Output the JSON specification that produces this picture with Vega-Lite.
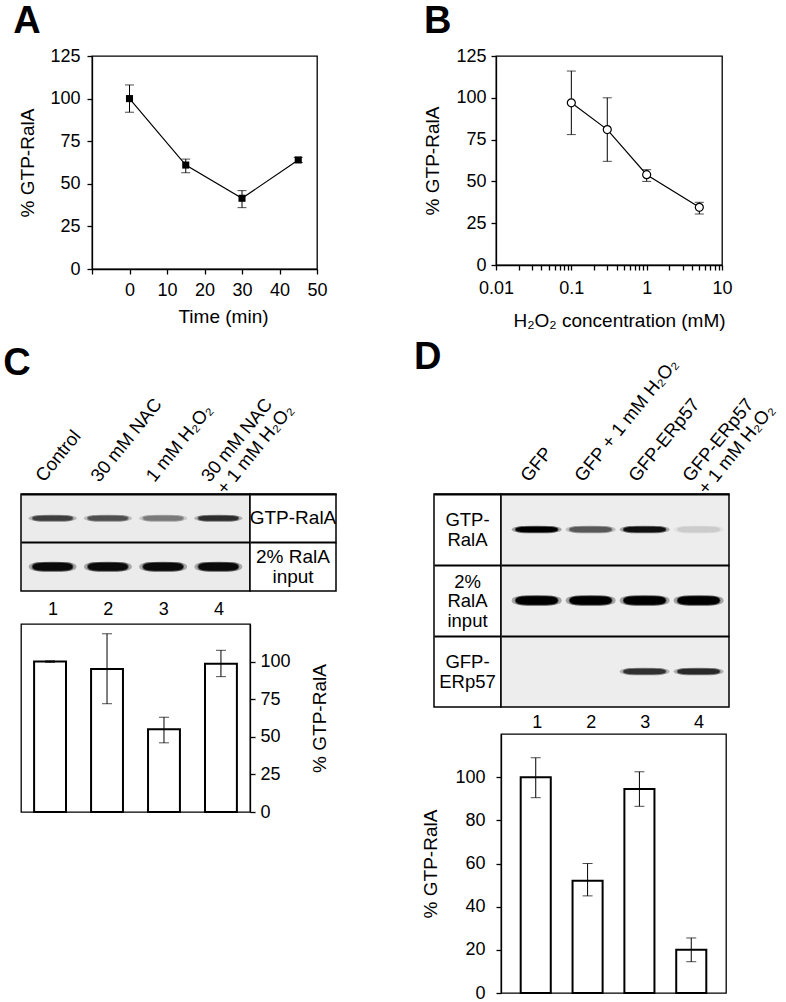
{
  "$schema": "https://vega.github.io/schema/vega-lite/v6.json",
  "padding": {"left": 0, "top": 2, "right": 0, "bottom": 0},
  "config": {
    "font": "Liberation Sans",
    "view": {"stroke": "black", "strokeWidth": 1.3},
    "title": {"fontSize": 38, "fontWeight": "bold", "anchor": "start", "color": "black", "font": "Liberation Sans", "frame": "group"},
    "axis": {"labelFontSize": 18, "titleFontSize": 19, "titleFontWeight": "normal", "labelColor": "black", "titleColor": "black", "domainColor": "black", "tickColor": "black", "domainWidth": 1.3, "tickWidth": 1.3, "tickSize": 5, "grid": false, "labelFont": "Liberation Sans", "titleFont": "Liberation Sans", "labelFlush": false, "labelOverlap": false},
    "text": {"font": "Liberation Sans"}
  },
  "spacing": 7,
  "vconcat": [
    {
      "spacing": 11,
      "hconcat": [
        {"width": 1, "height": 1, "view": {"stroke": null}, "data": {"values": []}, "mark": {"type": "point", "opacity": 0}},
        {
          "spacing": 95,
          "hconcat": [
            {
              "title": {"text": "A", "dx": -78.7, "offset": 6},
              "width": 225, "height": 213,
              "data": {"values": [
                {"time": 0, "pct": 100, "lo": 92, "hi": 108},
                {"time": 15, "pct": 61, "lo": 56.5, "hi": 64.5},
                {"time": 30, "pct": 41.5, "lo": 36, "hi": 46},
                {"time": 45, "pct": 64, "lo": 62.5, "hi": 65.5}
              ]},
              "encoding": {
                "x": {"field": "time", "type": "quantitative", "scale": {"domain": [-10, 50], "nice": false, "zero": false},
                  "axis": {"values": [-10, 0, 10, 20, 30, 40, 50], "labelExpr": "datum.value < 0 ? '' : datum.label", "title": "Time (min)", "titleX": 131, "labelPadding": 7, "titlePadding": 8}}
              },
              "layer": [
                {"mark": {"type": "errorbar", "ticks": {"size": 9, "color": "black", "strokeWidth": 1.2}, "color": "black", "strokeWidth": 1.2},
                 "encoding": {"y": {"field": "lo", "type": "quantitative", "scale": {"domain": [0, 125], "nice": false}, "axis": {"values": [0, 25, 50, 75, 100, 125], "title": "% GTP-RalA", "labelPadding": 7, "titlePadding": 12}}, "y2": {"field": "hi"}}},
                {"mark": {"type": "line", "color": "black", "strokeWidth": 1.2},
                 "encoding": {"y": {"field": "pct", "type": "quantitative", "scale": {"domain": [0, 125], "nice": false}, "axis": {"values": [0, 25, 50, 75, 100, 125], "title": "% GTP-RalA", "labelPadding": 7, "titlePadding": 12}}}},
                {"mark": {"type": "point", "shape": "square", "filled": true, "color": "black", "size": 50, "opacity": 1},
                 "encoding": {"y": {"field": "pct", "type": "quantitative", "scale": {"domain": [0, 125], "nice": false}, "axis": {"values": [0, 25, 50, 75, 100, 125], "title": "% GTP-RalA", "labelPadding": 7, "titlePadding": 12}}}}
              ]
            },
            {
              "title": {"text": "B", "dx": -72, "offset": 6},
              "width": 226, "height": 209,
              "data": {"values": [
                {"conc": 0.1, "pct": 97, "lo": 78, "hi": 116},
                {"conc": 0.3, "pct": 81, "lo": 62, "hi": 100},
                {"conc": 1, "pct": 54, "lo": 50, "hi": 57},
                {"conc": 5, "pct": 34.5, "lo": 30.5, "hi": 37.5}
              ]},
              "encoding": {
                "x": {"field": "conc", "type": "quantitative", "scale": {"type": "log", "domain": [0.01, 10], "nice": false},
                  "axis": {"values": [0.01, 0.02, 0.03, 0.04, 0.05, 0.06, 0.07, 0.08, 0.09, 0.1, 0.2, 0.3, 0.4, 0.5, 0.6, 0.7, 0.8, 0.9, 1, 2, 3, 4, 5, 6, 7, 8, 9, 10],
                    "format": "~g", "labelExpr": "(datum.value == 0.01 || datum.value == 0.1 || datum.value == 1 || datum.value == 10) ? datum.label : ''",
                    "title": "H\u2082O\u2082 concentration (mM)", "titleX": 123, "labelPadding": 9, "titlePadding": 14}}
              },
              "layer": [
                {"mark": {"type": "errorbar", "ticks": {"size": 9, "color": "black", "strokeWidth": 1.2}, "color": "black", "strokeWidth": 1.2},
                 "encoding": {"y": {"field": "lo", "type": "quantitative", "scale": {"domain": [0, 125], "nice": false}, "axis": {"values": [0, 25, 50, 75, 100, 125], "title": "% GTP-RalA", "labelPadding": 5, "titlePadding": 13}}, "y2": {"field": "hi"}}},
                {"mark": {"type": "line", "color": "black", "strokeWidth": 1.2},
                 "encoding": {"y": {"field": "pct", "type": "quantitative", "scale": {"domain": [0, 125], "nice": false}, "axis": {"values": [0, 25, 50, 75, 100, 125], "title": "% GTP-RalA", "labelPadding": 5, "titlePadding": 13}}}},
                {"mark": {"type": "point", "shape": "circle", "filled": true, "fill": "white", "stroke": "black", "strokeWidth": 1.2, "size": 64, "opacity": 1},
                 "encoding": {"y": {"field": "pct", "type": "quantitative", "scale": {"domain": [0, 125], "nice": false}, "axis": {"values": [0, 25, 50, 75, 100, 125], "title": "% GTP-RalA", "labelPadding": 5, "titlePadding": 13}}}}
              ]
            }
          ]
        }
      ]
    },
    {
      "spacing": 2,
      "hconcat": [
        {"width": 1, "height": 1, "view": {"stroke": null}, "data": {"values": []}, "mark": {"type": "point", "opacity": 0}},
        {
          "spacing": 76,
          "hconcat": [
            {
              "title": {"text": "C", "dx": -17.7, "offset": 6, "dy": 2},
              "spacing": 4,
              "vconcat": [
                {
                  "spacing": 0,
                  "bounds": "flush",
                  "hconcat": [
                    {
                      "width": 229, "height": 97,
                      "view": {"fill": "#ebebeb", "stroke": "black", "strokeWidth": 1.5},
                      "data": {"values": [
                        {"trt": "Control", "num": "1", "row": "GTP-RalA", "intensity": 0.72},
                        {"trt": "30 mM NAC", "num": "2", "row": "GTP-RalA", "intensity": 0.64},
                        {"trt": "1 mM H\u2082O\u2082", "num": "3", "row": "GTP-RalA", "intensity": 0.45},
                        {"trt": "30 mM NAC|+ 1 mM H\u2082O\u2082", "num": "4", "row": "GTP-RalA", "intensity": 0.8},
                        {"trt": "Control", "num": "1", "row": "2% RalA input", "intensity": 0.97},
                        {"trt": "30 mM NAC", "num": "2", "row": "2% RalA input", "intensity": 0.97},
                        {"trt": "1 mM H\u2082O\u2082", "num": "3", "row": "2% RalA input", "intensity": 0.97},
                        {"trt": "30 mM NAC|+ 1 mM H\u2082O\u2082", "num": "4", "row": "2% RalA input", "intensity": 0.97}
                      ]},
                      "resolve": {"scale": {"x": "independent"}, "axis": {"x": "independent"}},
                      "encoding": {
                        "y": {"field": "row", "type": "nominal", "scale": {"type": "band", "domain": ["GTP-RalA", "2% RalA input"], "paddingInner": 0, "paddingOuter": 0},
                          "axis": {"labels": false, "ticks": false, "domain": false, "title": null, "grid": true, "gridColor": "black", "gridWidth": 2, "bandPosition": 0}},
                        "fill": {"field": "intensity", "type": "quantitative", "scale": {"domain": [0, 1], "range": ["#ebebeb", "#000000"]}, "legend": null},
                        "stroke": {"field": "intensity", "type": "quantitative", "scale": {"domain": [0, 1], "range": ["#ebebeb", "#000000"]}, "legend": null},
                        "shape": {"field": "row", "type": "nominal", "scale": {"domain": ["GTP-RalA", "2% RalA input"], "range": ["M-1,0C-1,-0.13,-0.6,-0.13,0,-0.13C0.6,-0.13,1,-0.13,1,0C1,0.13,0.6,0.13,0,0.13C-0.6,0.13,-1,0.13,-1,0Z", "M-1,0C-1,-0.2,-0.6,-0.2,0,-0.2C0.6,-0.2,1,-0.2,1,0C1,0.2,0.6,0.2,0,0.2C-0.6,0.2,-1,0.2,-1,0Z"]}, "legend": null}
                      },
                      "layer": [
                        {
                          "mark": {"type": "point", "filled": true, "size": 2300, "opacity": 0.3, "strokeWidth": 0},
                          "encoding": {
                            "x": {"field": "trt", "type": "nominal", "scale": {"type": "point", "domain": ["Control", "30 mM NAC", "1 mM H\u2082O\u2082", "30 mM NAC|+ 1 mM H\u2082O\u2082"], "padding": 0.572, "align": 0.5}, "axis": null}
                          }
                        },
                        {
                          "mark": {"type": "point", "filled": true, "size": 1600, "opacity": 1, "strokeWidth": 2, "strokeOpacity": 0.5},
                          "encoding": {
                            "x": {"field": "trt", "type": "nominal", "scale": {"type": "point", "domain": ["Control", "30 mM NAC", "1 mM H\u2082O\u2082", "30 mM NAC|+ 1 mM H\u2082O\u2082"], "padding": 0.572, "align": 0.5},
                              "axis": {"orient": "top", "ticks": false, "tickSize": 0, "domain": false, "labelAngle": -51, "labelAlign": "left", "labelBaseline": "bottom", "labelPadding": 9, "labelOffset": -6, "labelFontSize": 18.5, "labelExpr": "split(datum.label, '|')", "labelLineHeight": 20, "title": null}}
                          }
                        },
                        {
                          "mark": {"type": "point", "opacity": 0},
                          "encoding": {
                            "x": {"field": "num", "type": "ordinal", "scale": {"type": "point", "domain": ["1", "2", "3", "4"], "padding": 0.572, "align": 0.5},
                              "axis": {"orient": "bottom", "ticks": false, "tickSize": 0, "domain": false, "labelAngle": 0, "labelPadding": 9, "title": null}}
                          }
                        }
                      ]
                    },
                    {
                      "width": 86, "height": 97,
                      "view": {"fill": "white", "stroke": "black", "strokeWidth": 1.5},
                      "data": {"values": [
                        {"row": "GTP-RalA", "label": "GTP-RalA"},
                        {"row": "2% RalA input", "label": "2% RalA\ninput"}
                      ]},
                      "encoding": {
                        "y": {"field": "row", "type": "nominal", "scale": {"type": "band", "domain": ["GTP-RalA", "2% RalA input"], "paddingInner": 0, "paddingOuter": 0},
                          "axis": {"labels": false, "ticks": false, "domain": false, "title": null, "grid": true, "gridColor": "black", "gridWidth": 2, "bandPosition": 0}},
                        "text": {"field": "label"}
                      },
                      "layer": [
                        {"transform": [{"filter": "datum.row == 'GTP-RalA'"}],
                         "mark": {"type": "text", "fontSize": 19, "lineBreak": "\n", "lineHeight": 20, "color": "black", "baseline": "middle", "align": "center"}},
                        {"transform": [{"filter": "datum.row == '2% RalA input'"}],
                         "mark": {"type": "text", "fontSize": 19, "lineBreak": "\n", "lineHeight": 20, "color": "black", "baseline": "middle", "align": "center", "dy": -10}}
                      ]
                    }
                  ]
                },
                {
                  "width": 229, "height": 188,
                  "data": {"values": [
                    {"lane": "1", "pct": 100, "lo": 99.5, "hi": 100.5},
                    {"lane": "2", "pct": 95, "lo": 72, "hi": 118.5},
                    {"lane": "3", "pct": 55, "lo": 46, "hi": 63},
                    {"lane": "4", "pct": 98.5, "lo": 90, "hi": 107.5}
                  ]},
                  "encoding": {
                    "x": {"field": "lane", "type": "ordinal", "scale": {"type": "band", "paddingInner": 0.44, "paddingOuter": 0.23}, "axis": null}
                  },
                  "layer": [
                    {"mark": {"type": "bar", "fill": "white", "stroke": "black", "strokeWidth": 2},
                     "encoding": {"y": {"field": "pct", "type": "quantitative", "scale": {"domain": [0, 125], "nice": false},
                       "axis": {"orient": "right", "values": [0, 25, 50, 75, 100], "title": "% GTP-RalA", "titleAngle": 270, "labelPadding": 5, "titlePadding": 39}}}},
                    {"mark": {"type": "errorbar", "ticks": {"size": 10, "color": "black", "strokeWidth": 1.2}, "color": "black", "strokeWidth": 1.2},
                     "encoding": {"y": {"field": "lo", "type": "quantitative", "scale": {"domain": [0, 125], "nice": false},
                       "axis": {"orient": "right", "values": [0, 25, 50, 75, 100], "title": "% GTP-RalA", "titleAngle": 270, "labelPadding": 5, "titlePadding": 39}}, "y2": {"field": "hi"}}}
                  ]
                }
              ]
            },
            {
              "title": {"text": "D", "dx": -20, "offset": 6, "dy": 29},
              "spacing": 0,
              "bounds": "flush",
              "hconcat": [
                {
                  "width": 67, "height": 213,
                  "view": {"fill": "white", "stroke": "black", "strokeWidth": 1.5},
                  "data": {"values": [
                    {"row": "GTP-RalA", "label": "GTP-\nRalA"},
                    {"row": "2% RalA input", "label": "2%\nRalA\ninput"},
                    {"row": "GFP-ERp57", "label": "GFP-\nERp57"}
                  ]},
                  "encoding": {
                    "y": {"field": "row", "type": "nominal", "scale": {"type": "band", "domain": ["GTP-RalA", "2% RalA input", "GFP-ERp57"], "paddingInner": 0, "paddingOuter": 0},
                      "axis": {"labels": false, "ticks": false, "domain": false, "title": null, "grid": true, "gridColor": "black", "gridWidth": 2, "bandPosition": 0}},
                    "text": {"field": "label"}
                  },
                  "layer": [
                    {"transform": [{"filter": "datum.row != '2% RalA input'"}],
                     "mark": {"type": "text", "fontSize": 18.5, "lineBreak": "\n", "lineHeight": 19.5, "color": "black", "baseline": "middle", "align": "center", "dy": -9.5}},
                    {"transform": [{"filter": "datum.row == '2% RalA input'"}],
                     "mark": {"type": "text", "fontSize": 18.5, "lineBreak": "\n", "lineHeight": 19.5, "color": "black", "baseline": "middle", "align": "center", "dy": -19}}
                  ]
                },
                {
                  "spacing": 1,
                  "vconcat": [
                    {
                      "width": 228, "height": 213,
                      "view": {"fill": "#ededed", "stroke": "black", "strokeWidth": 1.5},
                      "data": {"values": [
                        {"trt": "GFP", "num": "1", "row": "GTP-RalA", "intensity": 1.0},
                        {"trt": "GFP + 1 mM H\u2082O\u2082", "num": "2", "row": "GTP-RalA", "intensity": 0.6},
                        {"trt": "GFP-ERp57", "num": "3", "row": "GTP-RalA", "intensity": 0.95},
                        {"trt": "GFP-ERp57|+ 1 mM H\u2082O\u2082", "num": "4", "row": "GTP-RalA", "intensity": 0.12},
                        {"trt": "GFP", "num": "1", "row": "2% RalA input", "intensity": 1.0},
                        {"trt": "GFP + 1 mM H\u2082O\u2082", "num": "2", "row": "2% RalA input", "intensity": 1.0},
                        {"trt": "GFP-ERp57", "num": "3", "row": "2% RalA input", "intensity": 1.0},
                        {"trt": "GFP-ERp57|+ 1 mM H\u2082O\u2082", "num": "4", "row": "2% RalA input", "intensity": 1.0},
                        {"trt": "GFP-ERp57", "num": "3", "row": "GFP-ERp57", "intensity": 0.78},
                        {"trt": "GFP-ERp57|+ 1 mM H\u2082O\u2082", "num": "4", "row": "GFP-ERp57", "intensity": 0.82}
                      ]},
                      "resolve": {"scale": {"x": "independent"}, "axis": {"x": "independent"}},
                      "encoding": {
                        "y": {"field": "row", "type": "nominal", "scale": {"type": "band", "domain": ["GTP-RalA", "2% RalA input", "GFP-ERp57"], "paddingInner": 0, "paddingOuter": 0},
                          "axis": {"labels": false, "ticks": false, "domain": false, "title": null, "grid": true, "gridColor": "black", "gridWidth": 2, "bandPosition": 0}},
                        "fill": {"field": "intensity", "type": "quantitative", "scale": {"domain": [0, 1], "range": ["#ededed", "#000000"]}, "legend": null},
                        "stroke": {"field": "intensity", "type": "quantitative", "scale": {"domain": [0, 1], "range": ["#ededed", "#000000"]}, "legend": null},
                        "shape": {"field": "row", "type": "nominal", "scale": {"domain": ["GTP-RalA", "2% RalA input", "GFP-ERp57"], "range": ["M-1,0C-1,-0.19,-0.6,-0.19,0,-0.19C0.6,-0.19,1,-0.19,1,0C1,0.19,0.6,0.19,0,0.19C-0.6,0.19,-1,0.19,-1,0Z", "M-1,0C-1,-0.18,-0.6,-0.18,0,-0.18C0.6,-0.18,1,-0.18,1,0C1,0.18,0.6,0.18,0,0.18C-0.6,0.18,-1,0.18,-1,0Z", "M-1,0C-1,-0.16,-0.6,-0.16,0,-0.16C0.6,-0.16,1,-0.16,1,0C1,0.16,0.6,0.16,0,0.16C-0.6,0.16,-1,0.16,-1,0Z"]}, "legend": null}
                      },
                      "layer": [
                        {
                          "mark": {"type": "point", "filled": true, "size": 2500, "opacity": 0.3, "strokeWidth": 0},
                          "encoding": {
                            "x": {"field": "trt", "type": "nominal", "scale": {"type": "point", "domain": ["GFP", "GFP + 1 mM H\u2082O\u2082", "GFP-ERp57", "GFP-ERp57|+ 1 mM H\u2082O\u2082"], "padding": 0.612, "align": 0.54}, "axis": null}
                          }
                        },
                        {
                          "mark": {"type": "point", "filled": true, "size": 1764, "opacity": 1, "strokeWidth": 2, "strokeOpacity": 0.5},
                          "encoding": {
                            "x": {"field": "trt", "type": "nominal", "scale": {"type": "point", "domain": ["GFP", "GFP + 1 mM H\u2082O\u2082", "GFP-ERp57", "GFP-ERp57|+ 1 mM H\u2082O\u2082"], "padding": 0.612, "align": 0.54},
                              "axis": {"orient": "top", "ticks": false, "tickSize": 0, "domain": false, "labelAngle": -51, "labelAlign": "left", "labelBaseline": "bottom", "labelPadding": 9, "labelOffset": -5, "labelFontSize": 18.5, "labelExpr": "split(datum.label, '|')", "labelLineHeight": 20, "title": null}}
                          }
                        },
                        {
                          "mark": {"type": "point", "opacity": 0},
                          "encoding": {
                            "x": {"field": "num", "type": "ordinal", "scale": {"type": "point", "domain": ["1", "2", "3", "4"], "padding": 0.612, "align": 0.54},
                              "axis": {"orient": "bottom", "ticks": false, "tickSize": 0, "domain": false, "labelAngle": 0, "labelPadding": 6, "title": null}}
                          }
                        }
                      ]
                    },
                    {
                      "width": 225, "height": 259,
                      "data": {"values": [
                        {"lane": "1", "pct": 100, "lo": 90.5, "hi": 109},
                        {"lane": "2", "pct": 52, "lo": 45, "hi": 60},
                        {"lane": "3", "pct": 94.5, "lo": 86.5, "hi": 102.5},
                        {"lane": "4", "pct": 20, "lo": 14.5, "hi": 25.5}
                      ]},
                      "encoding": {
                        "x": {"field": "lane", "type": "ordinal", "scale": {"type": "band", "paddingInner": 0.42, "paddingOuter": 0.38}, "axis": null}
                      },
                      "layer": [
                        {"mark": {"type": "bar", "fill": "white", "stroke": "black", "strokeWidth": 2},
                         "encoding": {"y": {"field": "pct", "type": "quantitative", "scale": {"domain": [0, 120], "nice": false},
                           "axis": {"values": [0, 20, 40, 60, 80, 100], "title": "% GTP-RalA", "labelPadding": 11, "titlePadding": 14}}}},
                        {"mark": {"type": "errorbar", "ticks": {"size": 10, "color": "black", "strokeWidth": 1.2}, "color": "black", "strokeWidth": 1.2},
                         "encoding": {"y": {"field": "lo", "type": "quantitative", "scale": {"domain": [0, 120], "nice": false},
                           "axis": {"values": [0, 20, 40, 60, 80, 100], "title": "% GTP-RalA", "labelPadding": 11, "titlePadding": 14}}, "y2": {"field": "hi"}}}
                      ]
                    }
                  ]
                }
              ]
            }
          ]
        }
      ]
    }
  ]
}
